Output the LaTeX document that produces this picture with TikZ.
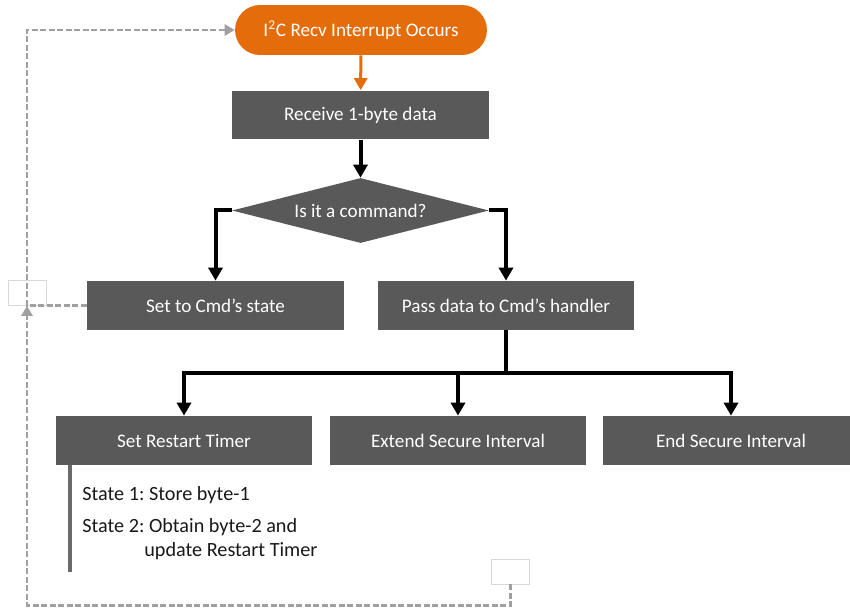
\documentclass[tikz,border=0pt]{standalone}
\usepackage{fontspec}
\setmainfont{Carlito}
\frenchspacing
\usetikzlibrary{shapes.geometric, arrows.meta}
\definecolor{boxgray}{HTML}{595959}
\definecolor{irqorange}{HTML}{E46C0A}
\definecolor{loopgray}{HTML}{A0A0A0}
\tikzset{every node/.style={font=\fontsize{10.9}{13}\selectfont},
         process/.style={fill=boxgray, text=white, minimum width=5.14cm, minimum height=0.98cm, inner sep=0pt},
         decision/.style={diamond, aspect=4, fill=boxgray, text=white, minimum width=5.14cm, minimum height=1.3cm, inner sep=0pt},
         terminal/.style={fill=irqorange, text=white, rounded corners=0.5cm, minimum width=5.04cm, minimum height=1cm},
         flow/.style={line width=0.08cm, -{Triangle[length=0.26cm,width=0.28cm]}},
         loop/.style={loopgray, line width=0.05cm, dash pattern=on 0.12cm off 0.05cm, -{Triangle[length=0.2cm,width=0.22cm]}},
         memo/.style={draw=black!15, line width=0.4pt, minimum width=0.76cm, minimum height=0.5cm, inner sep=0pt},
         note/.style={anchor=west, inner sep=0pt, text=black!90, font=\fontsize{11.5}{13}\selectfont},
        }

\begin{document}
\begin{tikzpicture}[x=0.02cm, y=-0.02cm]
        \useasboundingbox (0,0) rectangle (850,608);

        \node[terminal](irq)at(361,30){I\textsuperscript{2}C Recv Interrupt Occurs};
        \node[process](recv)at(360.5,115){Receive 1-byte data};
        \node[decision](iscmd)at(360.5,210.5){Is it a command?};
        \node[process](cmdstate)at(215.5,305.5){Set to Cmd’s state};
        \node[process](passdata)at(506,305.5){Pass data to Cmd’s handler};
        \node[process](restart)at(184,440.5){Set Restart Timer};
        \node[process](extend)at(458,440.5){Extend Secure Interval};
        \node[process](endsec)at(731,440.5){End Secure Interval};

        \node[memo](memoA)at(27,293){};
        \node[memo](memoB)at(510.5,571.5){};

        \draw[irqorange, line width=0.06cm, -{Triangle[length=0.24cm,width=0.26cm]}](irq)--(recv);
        \draw[flow](recv)--(iscmd);
        \draw[flow](iscmd.west)-|(cmdstate);
        \draw[flow](iscmd.east)-|(passdata);

        \coordinate(split)at(506,373);
        \draw[line width=0.08cm](passdata)--(split);
        \foreach \n in {restart,extend,endsec}
            \draw[flow](split)-|(\n);

        % back to the interrupt
        \draw[loop](cmdstate.west)--(cmdstate.west -| memoA)|-(irq.west);
        \draw[loop](memoB.south)--++(0,21)-|(memoA.south);

        \draw[line width=0.08cm, boxgray!90](restart.south west)++(15,0)--++(0,107);
        \node[note](stateA)at(82,495){State 1: Store byte-1};
        \node[note](stateB)at(82,527){State 2: Obtain byte-2 and};
        \node[note](stateC)at(144,551){update Restart Timer};
    \end{tikzpicture}
\end{document}
